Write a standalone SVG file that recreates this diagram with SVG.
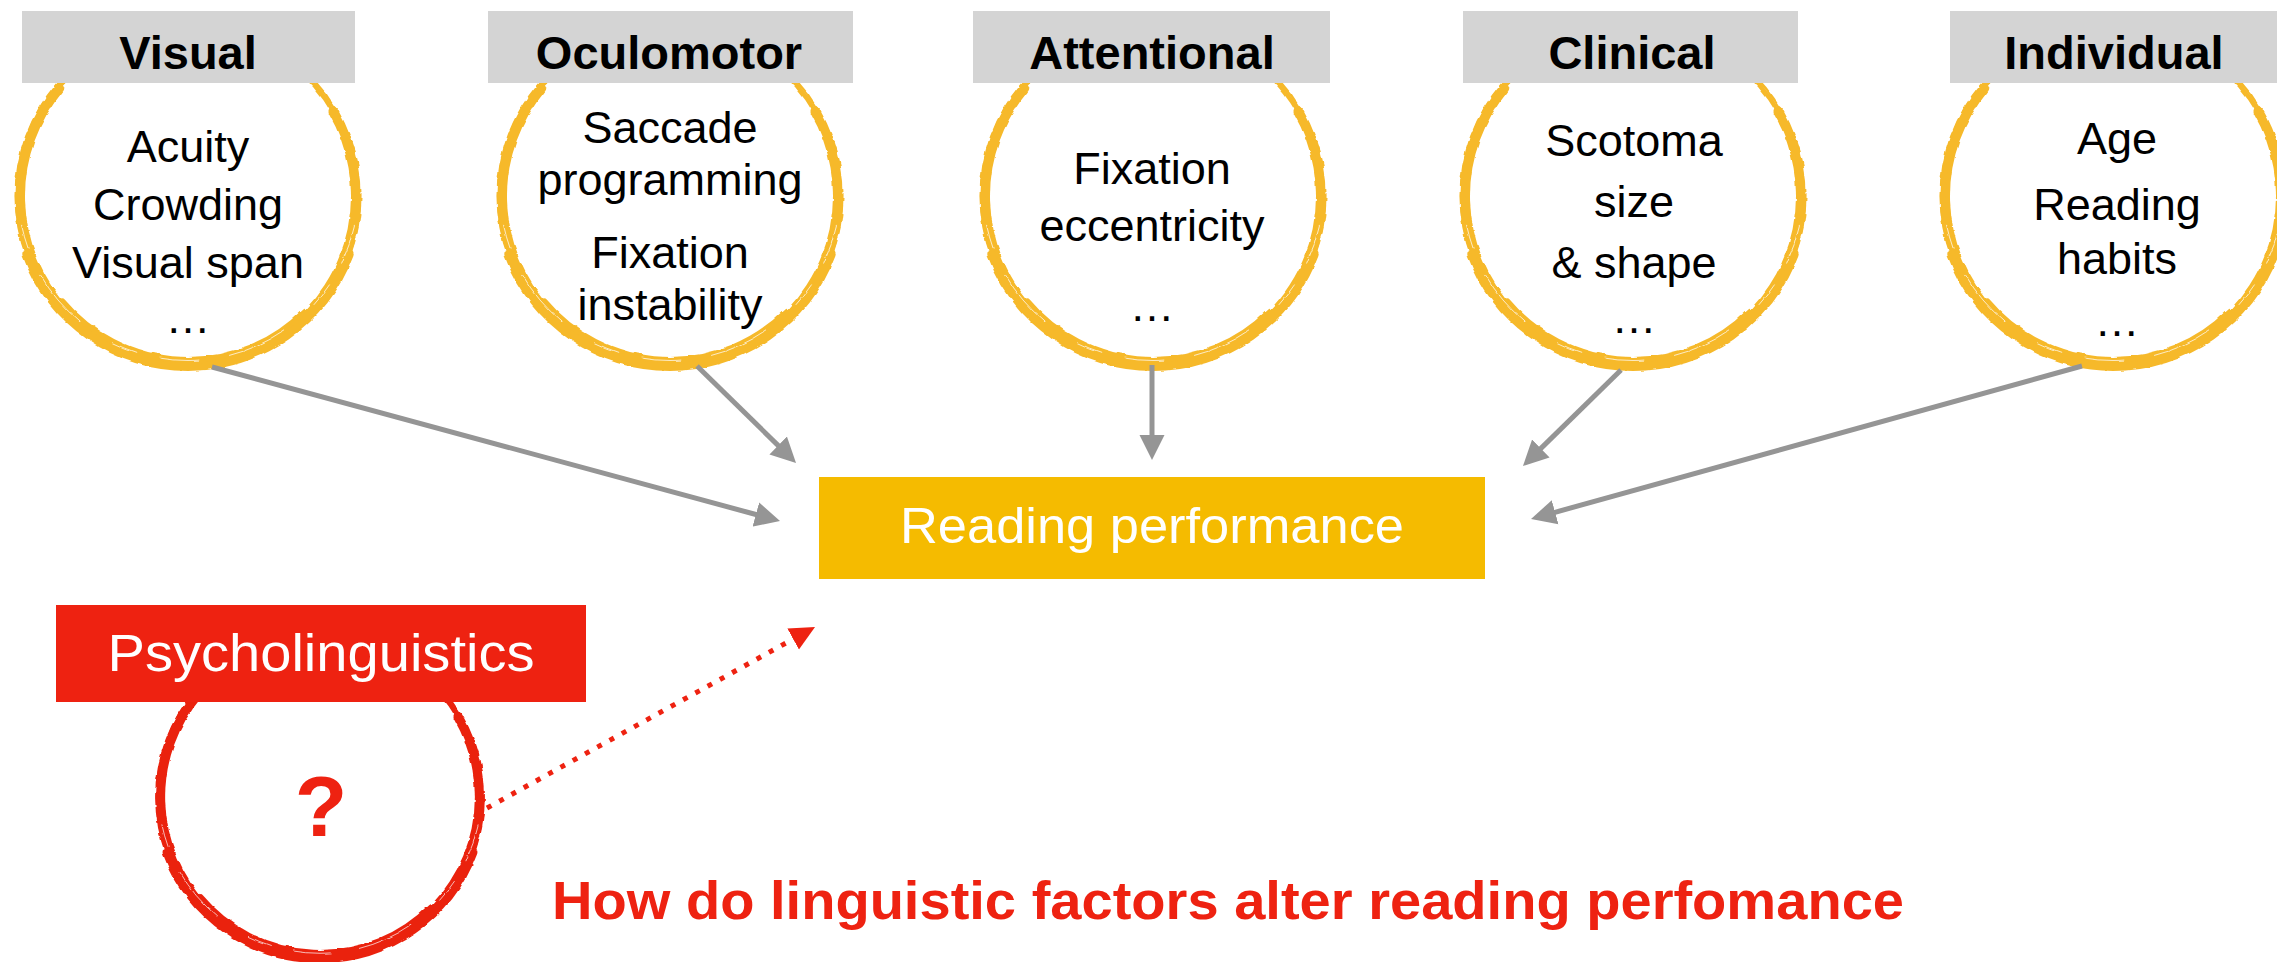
<svg xmlns="http://www.w3.org/2000/svg" xmlns:xlink="http://www.w3.org/1999/xlink" width="2277" height="962" viewBox="0 0 2277 962">
<style>
.hdr{fill:#D4D4D4}
.hdrt{font-family:"Liberation Sans",Arial,sans-serif;font-weight:bold;font-size:47px;fill:#000;text-anchor:middle}
.body{font-family:"Liberation Sans",Arial,sans-serif;font-size:45px;fill:#000;text-anchor:middle}
.ring{color:#F6B92C}
.ringr{color:#EA2210}
.conn{stroke:#959595;stroke-width:5;fill:none}
.wt{font-family:"Liberation Sans",Arial,sans-serif;fill:#fff;text-anchor:middle}
</style>
<defs>
<filter id="rough" x="-10%" y="-10%" width="120%" height="120%">
<feTurbulence type="fractalNoise" baseFrequency="0.05 0.12" numOctaves="2" seed="4" result="n"/>
<feDisplacementMap in="SourceGraphic" in2="n" scale="3.5" xChannelSelector="R" yChannelSelector="G"/>
</filter>
<g id="brush" fill="none" stroke="currentColor" stroke-linecap="round">
<path d="M145.5,-84 A168,168 0 1 1 -128.7,-108" stroke-width="10"/>
<path d="M103.4,-132.4 A168,168 0 0 1 145.5,-84" stroke-width="4.5"/>
<path d="M114.4,-127.1 A171,171 0 0 1 155,-72.3" stroke-width="2.5"/>
<path d="M159.7,58.1 A170.5,170.5 0 0 1 -159.7,58.1" stroke-width="12"/>
<path d="M116,116 A164,164 0 0 1 -125.6,105.4" stroke-width="6"/>
<path d="M-147.7,85.3 A170.5,170.5 0 0 1 -109.6,-130.6" stroke-width="6"/>
<path d="M160.7,-58.5 A171,171 0 0 1 131,109.9" stroke-width="5"/>
<path d="M166.4,29.3 A170,170 0 0 1 -166.4,29.3" stroke="#fff" stroke-width="0.9" stroke-dasharray="40 25 25 40 60 30" opacity="0.8"/>
</g>
<marker id="ah" markerUnits="userSpaceOnUse" markerWidth="26" markerHeight="26" viewBox="0 -13 26 26" refX="2" refY="0" orient="auto">
<path d="M0,-12.5 L25,0 L0,12.5 Z" fill="#959595"/>
</marker>
<marker id="ahr" markerUnits="userSpaceOnUse" markerWidth="26" markerHeight="26" viewBox="0 -13 26 26" refX="2" refY="0" orient="auto">
<path d="M0,-12 L25,0 L0,12 Z" fill="#EE2211"/>
</marker>
</defs>
<rect width="2277" height="962" fill="#fff"/>

<g id="node-visual">
<use xlink:href="#brush" href="#brush" class="ring" transform="translate(188,196)" filter="url(#rough)"/>
<rect class="hdr" x="22" y="11" width="333" height="72"/>
<text class="hdrt" x="188" y="69">Visual</text>
<text class="body" x="188" y="162">Acuity</text>
<text class="body" x="188" y="220">Crowding</text>
<text class="body" x="188" y="278">Visual span</text>
<text class="body" x="188" y="333">…</text>
</g>

<g id="node-oculomotor">
<use xlink:href="#brush" href="#brush" class="ring" transform="translate(670,196)" filter="url(#rough)"/>
<rect class="hdr" x="488" y="11" width="365" height="72"/>
<text class="hdrt" x="669" y="69">Oculomotor</text>
<text class="body" x="670" y="143">Saccade</text>
<text class="body" x="670" y="195">programming</text>
<text class="body" x="670" y="268">Fixation</text>
<text class="body" x="670" y="320">instability</text>
</g>

<g id="node-attentional">
<use xlink:href="#brush" href="#brush" class="ring" transform="translate(1153,196)" filter="url(#rough)"/>
<rect class="hdr" x="973" y="11" width="357" height="72"/>
<text class="hdrt" x="1152" y="69">Attentional</text>
<text class="body" x="1152" y="184">Fixation</text>
<text class="body" x="1152" y="241">eccentricity</text>
<text class="body" x="1152" y="321">…</text>
</g>

<g id="node-clinical">
<use xlink:href="#brush" href="#brush" class="ring" transform="translate(1633,196)" filter="url(#rough)"/>
<rect class="hdr" x="1463" y="11" width="335" height="72"/>
<text class="hdrt" x="1632" y="69">Clinical</text>
<text class="body" x="1634" y="156">Scotoma</text>
<text class="body" x="1634" y="217">size</text>
<text class="body" x="1634" y="278">&amp; shape</text>
<text class="body" x="1634" y="333">…</text>
</g>

<g id="node-individual">
<use xlink:href="#brush" href="#brush" class="ring" transform="translate(2113,196)" filter="url(#rough)"/>
<rect class="hdr" x="1950" y="11" width="340" height="72"/>
<text class="hdrt" x="2114" y="69">Individual</text>
<text class="body" x="2117" y="154">Age</text>
<text class="body" x="2117" y="220">Reading</text>
<text class="body" x="2117" y="274">habits</text>
<text class="body" x="2117" y="336">…</text>
</g>

<g id="node-reading">
<rect x="819" y="477" width="666" height="102" fill="#F5BB00"/>
<text class="wt" x="1152" y="543" font-size="50" textLength="504" lengthAdjust="spacingAndGlyphs">Reading performance</text>
</g>

<g id="node-psycholinguistics">
<use xlink:href="#brush" href="#brush" class="ringr" transform="translate(320,797) scale(0.95)" filter="url(#rough)"/>
<rect x="56" y="605" width="530" height="97" fill="#EE2211"/>
<text class="wt" x="321" y="671" font-size="51" textLength="427" lengthAdjust="spacingAndGlyphs">Psycholinguistics</text>
<text x="321" y="836" font-family="'Liberation Sans', Arial, sans-serif" font-weight="bold" font-size="86" fill="#EE2211" text-anchor="middle">?</text>
</g>

<g id="connectors">
<line class="conn" x1="212" y1="367" x2="757.8" y2="515" marker-end="url(#ah)"/>
<line class="conn" x1="697" y1="366" x2="779.6" y2="446.9" marker-end="url(#ah)"/>
<line class="conn" x1="1152" y1="365" x2="1152" y2="437" marker-end="url(#ah)"/>
<line class="conn" x1="1621" y1="370" x2="1539.4" y2="449.9" marker-end="url(#ah)"/>
<line class="conn" x1="2082" y1="366" x2="1553.2" y2="512.8" marker-end="url(#ah)"/>
<line x1="487" y1="808" x2="794.9" y2="638.1" stroke="#EE2211" stroke-width="5" stroke-dasharray="5 9" fill="none" marker-end="url(#ahr)"/>
</g>

<text id="question" x="552" y="919" font-family="'Liberation Sans', Arial, sans-serif" font-weight="bold" font-size="54" fill="#EE2211" textLength="1352" lengthAdjust="spacingAndGlyphs">How do linguistic factors alter reading perfomance</text>
</svg>
